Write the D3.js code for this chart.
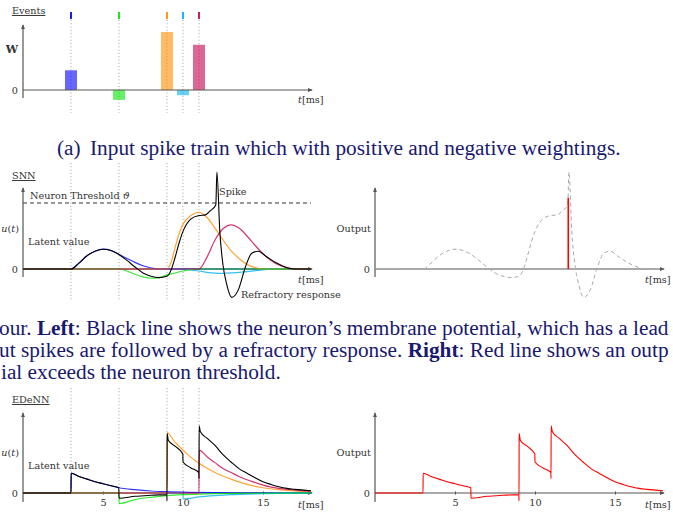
<!DOCTYPE html>
<html>
<head>
<meta charset="utf-8">
<script src="https://cdn.jsdelivr.net/npm/d3@7"></script>
<style>
  body { margin: 0; background: #fff; }
  svg { display: block; background: #fff; }
  .lbl { font-family: "DejaVu Serif", serif; font-size: 9.7px; fill: #333; }
  .cap { font-family: "Liberation Serif", "Times New Roman", serif; font-size: 21.3px; fill: #191970; }
</style>
</head>
<body>
<svg id="svg"></svg>
<script>

// input events: time [ms] and weight
const eventTimes = [3, 6, 9, 10, 11];
const eventWeights = [0.34, -0.17, 1.0, -0.09, 0.78];
const eventColours = ["#0000ff", "#00e600", "#ff8c00", "#00b0f0", "#c8004f"];

const tickTimes = [5, 10, 15];
const threshold = 1;

// SNN responses to each input, [t, u]
const snnBlue = [[0,0],[3,0],[3.5,0.09],[4,0.2],[4.5,0.27],[5,0.30],[5.5,0.28],[6,0.22],[6.5,0.16],[7,0.10],[7.5,0.05],[8,0.015],[8.4,0],[18,0]];
const snnGreen = [[0,0],[6,0],[6.5,-0.03],[7,-0.08],[7.5,-0.12],[8,-0.14],[8.5,-0.13],[9,-0.09],[9.5,-0.06],[10,-0.03],[10.5,-0.01],[11,0],[18,0]];
const snnOrange = [[0,0],[9,0],[9.25,0.1],[9.5,0.32],[9.75,0.53],[10,0.68],[10.5,0.81],[11,0.86],[11.5,0.78],[12,0.62],[12.5,0.44],[13,0.28],[13.5,0.16],[14,0.07],[14.5,0.02],[15,0],[18,0]];
const snnCyan = [[0,0],[10,0],[10.5,-0.015],[11,-0.03],[11.5,-0.05],[12,-0.062],[12.5,-0.065],[13,-0.06],[13.5,-0.05],[14,-0.04],[14.5,-0.025],[15,-0.012],[15.5,-0.004],[16,0],[18,0]];
const snnPink = [[0,0],[11,0],[11.5,0.18],[12,0.44],[12.5,0.61],[13,0.67],[13.5,0.62],[14,0.5],[14.5,0.36],[15,0.23],[15.5,0.13],[16,0.06],[16.5,0.02],[17,0],[18,0]];
// membrane potential (black) incl. spike and refractory dip
const snnMembrane = [[0,0],[3,0],[3.5,0.09],[4,0.2],[4.5,0.27],[5,0.30],[5.5,0.28],[6,0.22],[6.5,0.13],[7,0.03],[7.5,-0.06],[8,-0.11],[8.5,-0.13],[9,-0.11],[9.25,-0.02],[9.5,0.17],[9.75,0.39],[10,0.57],[10.5,0.76],[11,0.81],[11.4,0.82],[11.7,0.88],[12.05,0.97],[12.12,1.47],[12.3,0.57],[12.5,0.06],[12.7,-0.2],[13.05,-0.43],[13.45,-0.32],[13.9,0.03],[14.3,0.24],[14.7,0.27],[15.2,0.19],[15.85,0.09],[16.5,0.02],[17,0],[18,0]];
const snnOutputSpike = [12.08, 1.08];

// EDeNN responses, [t, u]
const edBlue = [[0,0],[3,0],[3.01,0.30],[3.5,0.25],[4,0.21],[4.5,0.17],[5,0.14],[5.5,0.11],[6,0.08],[7,0.05],[8,0.03],[9,0.02],[10,0.012],[12,0.005],[15,0.002],[18,0]];
const edGreen = [[0,0],[6,0],[6.01,-0.16],[7,-0.10],[8,-0.065],[9,-0.04],[10,-0.025],[11,-0.016],[12,-0.01],[14,-0.004],[18,0]];
const edOrange = [[0,0],[9,0],[9.01,0.91],[9.5,0.77],[10,0.65],[10.5,0.54],[11,0.45],[12,0.31],[13,0.21],[14,0.13],[15,0.08],[16,0.05],[17,0.03],[18,0.02]];
const edCyan = [[0,0],[10,0],[10.01,-0.09],[11,-0.06],[12,-0.04],[13,-0.025],[14,-0.016],[15,-0.01],[16,-0.006],[18,-0.002]];
const edPink = [[0,0],[11,0],[11.01,0.65],[11.5,0.55],[12,0.46],[12.5,0.37],[13,0.31],[13.5,0.25],[14,0.20],[14.5,0.16],[15,0.12],[16,0.07],[17,0.045],[18,0.03]];
const edMembrane = [[0,0],[3,0],[3.01,0.30],[3.5,0.25],[4,0.21],[4.5,0.17],[5,0.14],[5.5,0.11],[5.99,0.08],[6,-0.08],[7,-0.05],[8,-0.035],[8.99,-0.025],[9,-0.12],[9.01,0.90],[9.08,0.80],[9.5,0.71],[9.99,0.59],[10,0.47],[10.5,0.38],[10.99,0.31],[11,0.22],[11.01,1.02],[11.08,0.93],[11.5,0.83],[12,0.72],[12.5,0.58],[13,0.47],[13.5,0.37],[14,0.30],[14.5,0.23],[15,0.17],[15.5,0.13],[16,0.095],[16.5,0.07],[17,0.055],[18,0.035]];

const snnCurves = [snnBlue, snnGreen, snnOrange, snnCyan, snnPink];
const edCurves = [edBlue, edGreen, edOrange, edCyan, edPink];
// blue, cyan, orange, green, pink - pink/green end up on top along zero
const drawOrder = [0, 3, 2, 1, 4];

const width = 673;
const height = 513;
const axisColour = "#555";

let svg = d3.select("#svg").attr("width", width).attr("height", height);

// shared time scales for left and right columns
let xLeft = d3.scaleLinear().domain([0, 18]).range([23, 311]);
let xRight = d3.scaleLinear().domain([0, 18]).range([375, 663]);

let defs = svg.append("defs");
defs.append("marker")
    .attr("id", "arrow")
    .attr("viewBox", "0 0 6 6")
    .attr("refX", 5).attr("refY", 3)
    .attr("markerWidth", 5).attr("markerHeight", 5)
    .attr("markerUnits", "userSpaceOnUse")
    .attr("orient", "auto")
    .append("path")
    .attr("d", "M0,0.6 L6,3 L0,5.4 Z")
    .attr("fill", axisColour);

function label(x, y, txt, anchor) {
    return svg.append("text")
        .attr("class", "lbl")
        .attr("x", x).attr("y", y)
        .attr("text-anchor", anchor || "start")
        .text(txt);
}

function tLabel(x, y) {
    let t = label(x, y, "");
    t.append("tspan").style("font-style", "italic").text("t");
    t.append("tspan").text("[ms]");
}

function uLabel(x, y) {
    let t = label(x, y, "", "end");
    t.append("tspan").style("font-style", "italic").text("u");
    t.append("tspan").text("(");
    t.append("tspan").style("font-style", "italic").text("t");
    t.append("tspan").text(")");
}

function drawAxes(x, y, yTop, yBottom) {
    let g = svg.append("g");
    g.append("line")
        .attr("x1", x.range()[0]).attr("x2", x.range()[1] + 1)
        .attr("y1", y(0)).attr("y2", y(0))
        .attr("stroke", axisColour).attr("stroke-width", 1.2)
        .attr("marker-end", "url(#arrow)");
    g.append("line")
        .attr("x1", x.range()[0]).attr("x2", x.range()[0])
        .attr("y1", yBottom).attr("y2", yTop)
        .attr("stroke", axisColour).attr("stroke-width", 1.2)
        .attr("marker-end", "url(#arrow)");
    // "0" on the y axis
    let ax = d3.axisLeft(y).tickValues([0]).tickFormat(d3.format("d")).tickSize(0).tickPadding(5);
    let ya = svg.append("g").attr("transform", `translate(${x.range()[0]},0)`).call(ax);
    ya.select(".domain").remove();
    ya.selectAll("text").attr("fill", "#333").style("font-size", "9.7px").style("font-family", "DejaVu Serif");
    return g;
}

function drawTimeTicks(x, y) {
    let ax = d3.axisBottom(x).tickValues(tickTimes).tickSizeInner(3).tickSizeOuter(0).tickPadding(5);
    let g = svg.append("g").attr("transform", `translate(0,${y(0) - 1.5})`).call(ax);
    g.select(".domain").remove();
    g.selectAll("line").attr("stroke", axisColour);
    g.selectAll("text").attr("fill", "#333").style("font-size", "9.7px").style("font-family", "DejaVu Serif");
}

function drawEventLines(x, y1, y2) {
    svg.append("g").selectAll("line")
        .data(eventTimes)
        .join("line")
        .attr("x1", d => x(d)).attr("x2", d => x(d))
        .attr("y1", y1).attr("y2", y2)
        .attr("stroke", "#777").attr("stroke-width", 0.8)
        .attr("stroke-dasharray", "0.9 2.4");
}

function drawCurves(curves, black, x, y) {
    let line = d3.line().x(d => x(d[0])).y(d => y(d[1])).curve(d3.curveMonotoneX);
    let g = svg.append("g").attr("fill", "none");
    for (let i of drawOrder) {
        g.append("path")
            .attr("d", line(curves[i]))
            .attr("stroke", eventColours[i])
            .attr("stroke-opacity", 0.8)
            .attr("stroke-width", 1.2);
    }
    g.append("path")
        .attr("d", line(black))
        .attr("stroke", "#000")
        .attr("stroke-width", 1.1);
}

// ---------- Events panel ----------
function drawEvents() {
    let y = d3.scaleLinear().domain([0, 1]).range([90, 32]);
    drawEventLines(xLeft, 20, 113);

    svg.append("g").selectAll("rect")
        .data(eventTimes)
        .join("rect")
        .attr("x", d => xLeft(d) - 6)
        .attr("width", 12)
        .attr("y", (d, i) => y(Math.max(0, eventWeights[i])))
        .attr("height", (d, i) => Math.abs(y(eventWeights[i]) - y(0)))
        .attr("fill", (d, i) => eventColours[i])
        .attr("fill-opacity", 0.6);

    // small coloured spike markers on top
    svg.append("g").selectAll("line")
        .data(eventTimes)
        .join("line")
        .attr("x1", d => xLeft(d)).attr("x2", d => xLeft(d))
        .attr("y1", 12).attr("y2", 19)
        .attr("stroke", (d, i) => eventColours[i])
        .attr("stroke-width", 1.8);

    drawAxes(xLeft, y, 25, 98);
    label(12, 14, "Events").style("text-decoration", "underline");
    label(18, 53, "W", "end").style("font-weight", "bold").style("font-size", "11px");
    tLabel(298, 103);
}

// ---------- SNN panels ----------
function drawSNN() {
    let y = d3.scaleLinear().domain([0, 1]).range([269, 203]);
    drawEventLines(xLeft, 163, 300);

    svg.append("line")
        .attr("x1", xLeft(0)).attr("x2", xLeft(18))
        .attr("y1", y(threshold)).attr("y2", y(threshold))
        .attr("stroke", "#333").attr("stroke-width", 1)
        .attr("stroke-dasharray", "4 3");

    drawAxes(xLeft, y, 188, 277);
    drawCurves(snnCurves, snnMembrane, xLeft, y);

    label(12, 179, "SNN").style("text-decoration", "underline");
    let th = label(30, 199, "Neuron Threshold ");
    th.append("tspan").style("font-style", "italic").text("ϑ");
    uLabel(19, 232);
    label(28, 245, "Latent value");
    label(219, 195, "Spike");
    label(241, 298, "Refractory response");
    tLabel(298, 283);

    // right: output
    drawAxes(xRight, y, 188, 277);
    let line = d3.line().x(d => xRight(d[0])).y(d => y(d[1])).curve(d3.curveMonotoneX);
    svg.append("path")
        .attr("d", line(snnMembrane))
        .attr("fill", "none")
        .attr("stroke", "#aaa").attr("stroke-width", 1)
        .attr("stroke-dasharray", "4 3");
    svg.append("line")
        .attr("x1", xRight(snnOutputSpike[0])).attr("x2", xRight(snnOutputSpike[0]))
        .attr("y1", y(0)).attr("y2", y(snnOutputSpike[1]))
        .attr("stroke", "#ff0000").attr("stroke-width", 1.6);
    label(371, 232, "Output", "end");
    tLabel(645, 283);
}

// ---------- EDeNN panels ----------
function drawEDeNN() {
    let y = d3.scaleLinear().domain([0, 1]).range([493, 427]);
    drawEventLines(xLeft, 388, 493);

    drawAxes(xLeft, y, 413, 502);
    drawTimeTicks(xLeft, y);
    drawCurves(edCurves, edMembrane, xLeft, y);

    label(12, 403, "EDeNN").style("text-decoration", "underline");
    uLabel(19, 456);
    label(28, 469, "Latent value");
    tLabel(298, 508);

    drawAxes(xRight, y, 413, 502);
    drawTimeTicks(xRight, y);
    let line = d3.line().x(d => xRight(d[0])).y(d => y(d[1])).curve(d3.curveMonotoneX);
    svg.append("path")
        .attr("d", line(edMembrane))
        .attr("fill", "none")
        .attr("stroke", "#ff0000").attr("stroke-width", 1.1);
    label(371, 456, "Output", "end");
    tLabel(645, 508);
}

// ---------- caption text ----------
function drawCaptions() {
    svg.append("text").attr("class", "cap").attr("x", 57).attr("y", 155).text("(a)");
    svg.append("text").attr("class", "cap").attr("x", 90).attr("y", 155)
        .text("Input spike train which with positive and negative weightings.");

    let l1 = svg.append("text").attr("class", "cap").attr("x", -1).attr("y", 335);
    l1.append("tspan").text("our. ");
    l1.append("tspan").style("font-weight", "bold").text("Left");
    l1.append("tspan").text(": Black line shows the neuron’s membrane potential, which has a lead");

    let l2 = svg.append("text").attr("class", "cap").attr("x", -1).attr("y", 357);
    l2.append("tspan").text("ut spikes are followed by a refractory response. ");
    l2.append("tspan").style("font-weight", "bold").text("Right");
    l2.append("tspan").text(": Red line shows an outp");

    svg.append("text").attr("class", "cap").attr("x", 1).attr("y", 379)
        .text("ial exceeds the neuron threshold.");
}

drawEvents();
drawSNN();
drawEDeNN();
drawCaptions();

</script>
</body>
</html>
